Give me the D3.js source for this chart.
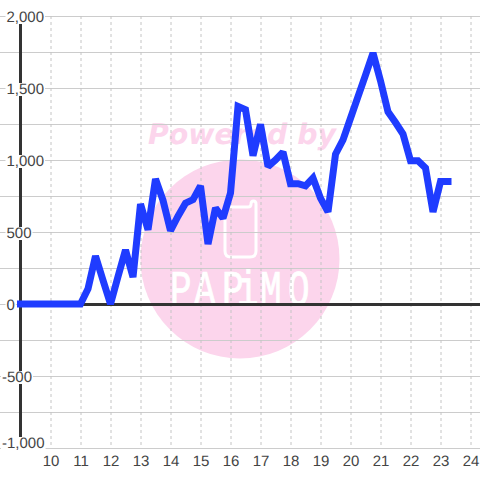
<!DOCTYPE html>
<html><head><meta charset="utf-8">
<script src="https://cdn.jsdelivr.net/npm/d3@7"></script>
<style>html,body{margin:0;padding:0;background:#fff}svg{display:block}text{font-family:"Liberation Sans",sans-serif;text-rendering:geometricPrecision}</style>
</head><body><div id="c"></div>
<script>
const times=[9,9.25,9.5,9.75,10,10.25,10.5,10.75,11,11.25,11.5,11.75,12,12.25,12.5,12.75,13,13.25,13.5,13.75,14,14.25,14.5,14.75,15,15.25,15.5,15.75,16,16.25,16.5,16.75,17,17.25,17.5,17.75,18,18.25,18.5,18.75,19,19.25,19.5,19.75,20,20.25,20.5,20.75,21,21.25,21.5,21.75,22,22.25,22.5,22.75,23,23.25];
const values=[0,0,0,0,0,0,0,0,0,105,333,165,0,190,375,187,694,516,868,720,509,610,700,725,820,417,667,595,770,1372,1350,1030,1247,955,1000,1055,835,835,820,875,735,640,1040,1140,1290,1440,1590,1743,1550,1335,1260,1180,995,995,945,640,850,850];
const xTicks=d3.range(10,25);
const yLabelTicks=[2000,1500,1000,500,0,-500,-1000];
const yGridTicks=d3.range(-1000,2001,250);
const W=480,H=480;
const x=d3.scaleLinear().domain([10,24]).range([50.5,470.5]);
const y=d3.scaleLinear().domain([-1000,2000]).range([448,16]);
const svg=d3.select("#c").append("svg").attr("width",W).attr("height",H);
svg.append("rect").attr("width",W).attr("height",H).attr("fill","#fff");
const pink="#fcd5ec";
const wm=svg.append("g");
wm.append("circle").attr("cx",240).attr("cy",259).attr("r",99.5).attr("fill",pink);
wm.append("text").text("Powered by").attr("x",148).attr("y",143.5).attr("textLength",188).attr("lengthAdjust","spacing")
  .style("font-family","'DejaVu Sans'").style("font-weight","bold").style("font-style","oblique").style("font-size","28.4px").attr("fill",pink);
const ph=d3.path();
ph.moveTo(226,207);ph.lineTo(248,207);ph.quadraticCurveTo(251,207,251,204);ph.quadraticCurveTo(251,201,253.5,201);ph.quadraticCurveTo(256,201,256,204);
ph.lineTo(256,251);ph.quadraticCurveTo(256,257,250,257);ph.lineTo(231,257);ph.quadraticCurveTo(225,257,225,251);ph.lineTo(225,208);
wm.append("path").attr("d",ph.toString()).attr("fill","none").attr("stroke","#fff").attr("stroke-width",3);
const logoX=[170,194,222,237,260,288];
const logoScale=0.72;
wm.append("g").attr("transform",`scale(${logoScale},1)`).append("text").text("PAPiMO")
  .attr("x",logoX.map(d=>d/logoScale).join(" ")).attr("y",305)
  .style("font-family","'Liberation Mono'").style("font-size","50px").attr("fill","#fff").attr("stroke","#fff").attr("stroke-width",0.8);
const gy=svg.append("g").call(d3.axisRight(y).tickValues(yGridTicks).tickSize(W).tickFormat(""));
gy.select(".domain").remove();
gy.selectAll("line").attr("stroke","#ccc").attr("stroke-width",1);
const gx=svg.append("g").attr("transform","translate(0,16)")
  .call(d3.axisBottom(x).tickValues(xTicks).tickSize(432).tickFormat(""));
gx.select(".domain").remove();
gx.selectAll("line").attr("stroke","#c4c4c4").attr("stroke-dasharray","3,3").attr("stroke-width",1);
svg.append("line").attr("x1",20.5).attr("x2",20.5).attr("y1",y(2000)).attr("y2",y(-1000)).attr("stroke","#333").attr("stroke-width",3);
svg.append("line").attr("x1",19).attr("x2",W).attr("y1",y(0)+0.5).attr("y2",y(0)+0.5).attr("stroke","#333").attr("stroke-width",3);
const fmt=d3.format(",");
const yl=svg.append("g");
yLabelTicks.forEach(v=>{
  const neg=v<0, px=neg?2:6.5, cy=y(v)+(v===-1000?-6:0);
  const t=yl.append("text").text(fmt(v).replace("−","-")).attr("x",px).attr("y",cy+5.5).attr("fill","#444").style("font-size","15px");
  const w=t.node().getComputedTextLength();
  yl.insert("rect","text").attr("x",px-1).attr("y",cy-5).attr("width",w+2).attr("height",13).attr("fill","#fff");
});
const xa=svg.append("g").attr("transform","translate(0,448)")
  .call(d3.axisBottom(x).tickValues(xTicks).tickSize(0).tickPadding(0).tickFormat(d3.format("d")));
xa.select(".domain").remove();
xa.selectAll("text").attr("fill","#444").attr("dy",null).attr("y",18).style("font-size","15px").style("font-family","'Liberation Sans'");
svg.append("path").datum(times.map((t,i)=>[t,values[i]]))
  .attr("d",d3.line().x(d=>x(d[0])).y(d=>y(d[1])))
  .attr("fill","none").attr("stroke","#1f3cff").attr("stroke-width",7).attr("stroke-linecap","square").attr("stroke-linejoin","miter").attr("stroke-miterlimit",2);
</script></body></html>
